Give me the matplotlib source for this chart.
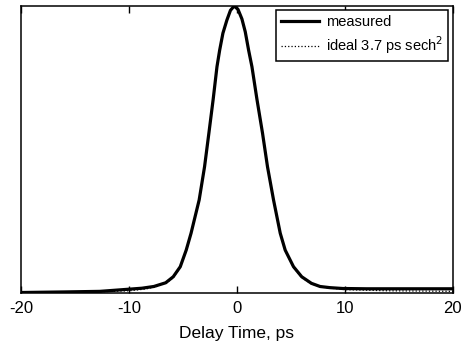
import matplotlib
matplotlib.use("Agg")
import matplotlib.pyplot as plt

plt.rcParams['font.family'] = ['Liberation Sans', 'DejaVu Sans']

# measured autocorrelation trace (normalised)
meas_t = [-20, -16, -12.7, -10.2, -8.8, -7.7, -6.6, -5.9, -5.25, -4.7, -4.25,
          -3.5, -3.0, -2.6, -2.2, -1.85, -1.6, -1.3, -0.93, -0.6, -0.25, 0.1,
          0.46, 0.77, 1.08, 1.39, 1.85, 2.37, 2.83, 3.39, 4.01, 4.47, 5.24,
          6.0, 6.9, 7.7, 8.6, 9.8, 12, 15, 18, 20]
meas_y = [0.0, 0.002, 0.004, 0.011, 0.015, 0.021, 0.034, 0.055, 0.09, 0.148,
          0.207, 0.323, 0.439, 0.556, 0.675, 0.788, 0.846, 0.905, 0.951, 0.985,
          1.0, 0.988, 0.955, 0.91, 0.846, 0.788, 0.675, 0.556, 0.439, 0.323,
          0.207, 0.148, 0.09, 0.055, 0.032, 0.021, 0.017, 0.014, 0.013, 0.013,
          0.013, 0.013]

# ideal 3.7 ps sech^2 fit (lies under the measured trace)
ideal_t = [-20, -14, -10, -8.5, -7.5, -6.5, -5.9, -5.25, -4.7, -4.25, -3.5,
           -3.0, -2.6, -2.2, -1.85, -1.6, -1.3, -0.93, -0.6, -0.25, 0.1,
           0.46, 0.77, 1.08, 1.39, 1.85, 2.37, 2.83, 3.39, 4.01, 4.47, 5.24,
           6.0, 6.9, 8.0, 10, 14, 20]
ideal_y = [0.0, 0.001, 0.006, 0.012, 0.02, 0.034, 0.052, 0.088, 0.145, 0.205,
           0.32, 0.437, 0.555, 0.674, 0.787, 0.845, 0.904, 0.95, 0.984, 0.999,
           0.987, 0.954, 0.909, 0.847, 0.789, 0.676, 0.557, 0.44, 0.324, 0.208,
           0.147, 0.088, 0.052, 0.03, 0.018, 0.01, 0.006, 0.004]

fig = plt.figure(figsize=(4.64, 3.54), dpi=100)
ax = fig.add_axes([0.0453, 0.1737, 0.9307, 0.8093])

ax.plot(meas_t, meas_y, color='black', linewidth=2.3, label='measured',
        solid_joinstyle='round')
ax.plot(ideal_t, ideal_y, color='black', linewidth=0.9, linestyle=':',
        label='ideal 3.7 ps sech$^2$')

ax.set_xlim(-20, 20)
ax.set_ylim(0, 1.0)
ax.set_xticks([-20, -10, 0, 10, 20])
ax.set_xticklabels(['-20', '-10', '0', '10', '20'])
ax.set_yticks([])
ax.tick_params(axis='x', direction='in', length=5, width=1, top=True,
               labelsize=12, pad=6)
for s in ax.spines.values():
    s.set_linewidth(1.1)

ax.set_xlabel('Delay Time, ps', fontsize=12.5, labelpad=7)

leg = ax.legend(loc='upper right', fontsize=10.5, frameon=True, fancybox=False,
                edgecolor='black', framealpha=1, handlelength=2.6,
                borderaxespad=0.3, borderpad=0.35, labelspacing=0.35,
                handletextpad=0.5)
leg.get_frame().set_linewidth(1.1)

fig.savefig('out.png', dpi=100)
